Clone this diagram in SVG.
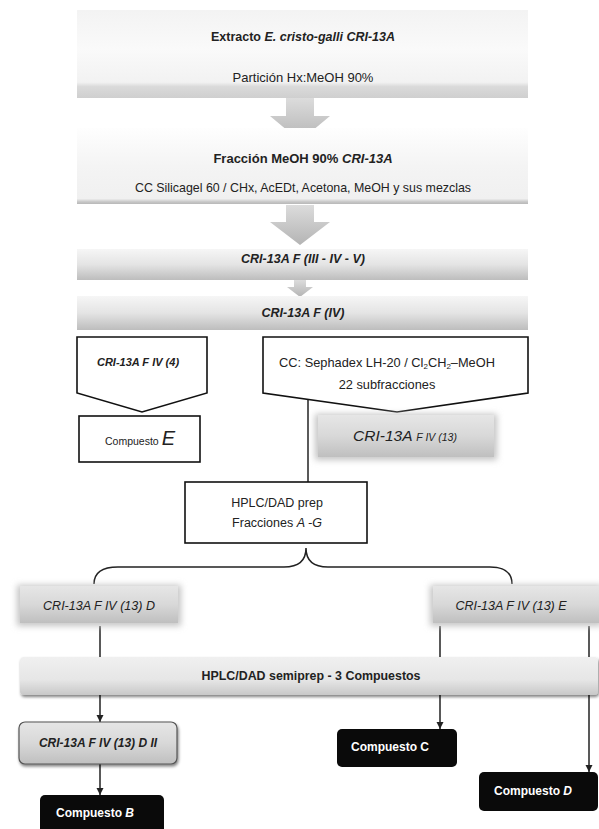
<svg xmlns="http://www.w3.org/2000/svg" width="599" height="829" viewBox="0 0 599 829">
<defs>
<style>
text{font-family:"Liberation Sans",Arial,sans-serif;fill:#222;text-anchor:middle}
.b{font-weight:bold}
.i{font-style:italic}
.w{fill:#fff}
.ln{stroke:#222;stroke-width:1.5;fill:none}
.box{fill:#fff;stroke:#111;stroke-width:1.6}
</style>
<linearGradient id="gTop" x1="0" y1="0" x2="0" y2="1">
<stop offset="0" stop-color="#f3f3f3"/><stop offset="0.45" stop-color="#fafafa"/><stop offset="0.82" stop-color="#f2f2f2"/><stop offset="0.87" stop-color="#dadada"/><stop offset="1" stop-color="#cfcfcf"/>
</linearGradient>
<linearGradient id="gTop2" x1="0" y1="0" x2="0" y2="1">
<stop offset="0" stop-color="#fefefe"/><stop offset="0.5" stop-color="#f4f4f4"/><stop offset="0.93" stop-color="#f0f0f0"/><stop offset="0.97" stop-color="#c8c8c8"/><stop offset="1" stop-color="#b8b8b8"/>
</linearGradient>
<linearGradient id="gBand" x1="0" y1="0" x2="0" y2="1">
<stop offset="0" stop-color="#f6f6f6"/><stop offset="0.5" stop-color="#e4e4e4"/><stop offset="1" stop-color="#bdbdbd"/>
</linearGradient>
<linearGradient id="gSoft" x1="0" y1="0" x2="0" y2="1">
<stop offset="0" stop-color="#e6e6e6"/><stop offset="0.5" stop-color="#d8d8d8"/><stop offset="1" stop-color="#bfbfbf"/>
</linearGradient>
<linearGradient id="gBar" x1="0" y1="0" x2="0" y2="1">
<stop offset="0" stop-color="#f0f0f0"/><stop offset="0.6" stop-color="#e6e6e6"/><stop offset="1" stop-color="#c8c8c8"/>
</linearGradient>
<linearGradient id="gArrow" x1="0" y1="0" x2="0" y2="1">
<stop offset="0" stop-color="#dcdcdc"/><stop offset="1" stop-color="#b4b4b4"/>
</linearGradient>
<filter id="blur" x="-10%" y="-30%" width="120%" height="160%"><feGaussianBlur stdDeviation="3"/></filter>
<filter id="sh" x="-10%" y="-20%" width="120%" height="150%"><feGaussianBlur in="SourceAlpha" stdDeviation="1.5"/><feOffset dx="1" dy="2"/><feComponentTransfer><feFuncA type="linear" slope="0.5"/></feComponentTransfer><feMerge><feMergeNode/><feMergeNode in="SourceGraphic"/></feMerge></filter>
<marker id="ah" viewBox="0 0 10 10" refX="10" refY="5" markerWidth="5" markerHeight="5" orient="auto"><path d="M0,0 L10,5 L0,10 z" fill="#222"/></marker>
</defs>
<rect width="599" height="829" fill="#fff"/>

<g id="connectors">
<path d="M286,98 L314,98 L314,116 L330,116 L300,141 L270,116 L286,116 z" fill="url(#gArrow)"/>
<path d="M286,205 L314,205 L314,222 L330,222 L300,245 L270,222 L286,222 z" fill="url(#gArrow)"/>
<path d="M294,280 L306,280 L306,287 L313,287 L300,297 L287,287 L294,287 z" fill="url(#gArrow)"/>
<line class="ln" x1="308" y1="400" x2="308" y2="482"/>
<path class="ln" d="M94,584 Q94,567 118,567 L284,567 Q306,567 306,548 Q306,567 328,567 L490,567 Q512,567 512,584"/>
<line class="ln" x1="100" y1="626" x2="100" y2="657"/>
<line class="ln" x1="440" y1="626" x2="440" y2="657"/>
<line class="ln" x1="589" y1="626" x2="589" y2="657"/>
<line class="ln" x1="100" y1="695" x2="100" y2="722" marker-end="url(#ah)"/>
<line class="ln" x1="440" y1="695" x2="440" y2="729" marker-end="url(#ah)"/>
<line class="ln" x1="589" y1="695" x2="589" y2="772" marker-end="url(#ah)"/>
<line class="ln" x1="100" y1="764" x2="100" y2="795" marker-end="url(#ah)"/>
</g>

<g id="n-extracto">
<rect x="77" y="10" width="451" height="88" fill="url(#gTop)"/>
<text x="303" y="41" font-size="12.5" class="b">Extracto <tspan class="i">E. cristo-galli  CRI-13A</tspan></text>
<text x="303" y="82" font-size="13">Partición Hx:MeOH 90%</text>
</g>

<g id="n-fraccion">
<rect x="77" y="128" width="451" height="76" fill="url(#gTop2)"/>
<text x="303" y="163" font-size="13" class="b">Fracción MeOH 90% <tspan class="i">CRI-13A</tspan></text>
<text x="303" y="192" font-size="12.4">CC Silicagel 60 / CHx, AcEDt, Acetona, MeOH y sus mezclas</text>
</g>

<g id="n-f3">
<rect x="77" y="249" width="451" height="31" fill="url(#gBand)"/>
<text x="303" y="263" font-size="12.5" class="b i">CRI-13A  F (III - IV - V)</text>
</g>

<g id="n-f4">
<rect x="77" y="296" width="451" height="34" fill="url(#gBand)"/>
<text x="303" y="317" font-size="12.5" class="b i">CRI-13A F (IV)</text>
</g>

<g id="n-f4-4">
<path class="box" d="M77,337 L207,337 L207,393 L142,412 L77,393 z"/>
<text x="138" y="366" font-size="11" class="b i">CRI-13A F IV (4)</text>
</g>

<g id="n-sephadex">
<path class="box" d="M263,337 L528,337 L528,393 L397,412 L263,393 z"/>
<text x="387" y="367" font-size="12.8">CC: Sephadex LH-20 / Cl<tspan font-size="8" dy="2">2</tspan><tspan dy="-2">CH</tspan><tspan font-size="8" dy="2">2</tspan><tspan dy="-2">–MeOH</tspan></text>
<text x="387" y="389" font-size="12.8">22 subfracciones</text>
</g>

<g id="n-compE">
<rect class="box" x="79" y="416" width="121" height="46"/>
<text x="140" y="445" font-size="10.5">Compuesto <tspan font-size="20" class="i">E</tspan></text>
</g>

<g id="n-f4-13">
<rect x="315" y="414" width="182" height="46" fill="#c4c4c4" filter="url(#blur)"/>
<rect x="318" y="415" width="176" height="42" fill="url(#gSoft)"/>
<text x="405" y="441" font-size="15.5" class="i">CRI-13A <tspan font-size="10.5">F IV (13)</tspan></text>
</g>

<g id="n-hplcprep">
<rect class="box" x="185" y="482" width="182" height="61" stroke-width="2"/>
<text x="277" y="507" font-size="12.5">HPLC/DAD prep</text>
<text x="277" y="527" font-size="12.5">Fracciones <tspan class="i">A -G</tspan></text>
</g>

<g id="n-D">
<rect x="17" y="585" width="164" height="41" fill="#c4c4c4" filter="url(#blur)"/>
<rect x="20" y="586" width="158" height="37" fill="url(#gSoft)"/>
<text x="99" y="610" font-size="12.5" class="i">CRI-13A F IV (13) D</text>
</g>

<g id="n-E">
<rect x="430" y="585" width="172" height="41" fill="#c4c4c4" filter="url(#blur)"/>
<rect x="433" y="586" width="166" height="37" fill="url(#gSoft)"/>
<text x="511" y="610" font-size="12.5" class="i">CRI-13A F IV (13) E</text>
</g>

<g id="n-semiprep">
<rect x="20" y="657" width="578" height="38" rx="4" fill="url(#gBar)" filter="url(#sh)"/>
<text x="311" y="680" font-size="12.4" class="b">HPLC/DAD semiprep - 3 Compuestos</text>
</g>

<g id="n-DII">
<rect x="19" y="722" width="158" height="42" rx="6" fill="url(#gSoft)" stroke="#555" stroke-width="1.2" filter="url(#sh)"/>
<text x="98" y="747" font-size="12" class="b i">CRI-13A F IV (13) D II</text>
</g>

<g id="n-compB">
<rect x="40" y="795" width="124" height="44" rx="5" fill="#0a0a0a"/>
<text x="95" y="817" font-size="12" class="b w">Compuesto <tspan class="i">B</tspan></text>
</g>

<g id="n-compC">
<rect x="337" y="729" width="120" height="38" rx="5" fill="#0a0a0a"/>
<text x="390" y="751" font-size="12" class="b w">Compuesto C</text>
</g>

<g id="n-compD">
<rect x="479" y="772" width="119" height="39" rx="5" fill="#0a0a0a"/>
<text x="533" y="795" font-size="12" class="b w">Compuesto <tspan class="i">D</tspan></text>
</g>
</svg>
